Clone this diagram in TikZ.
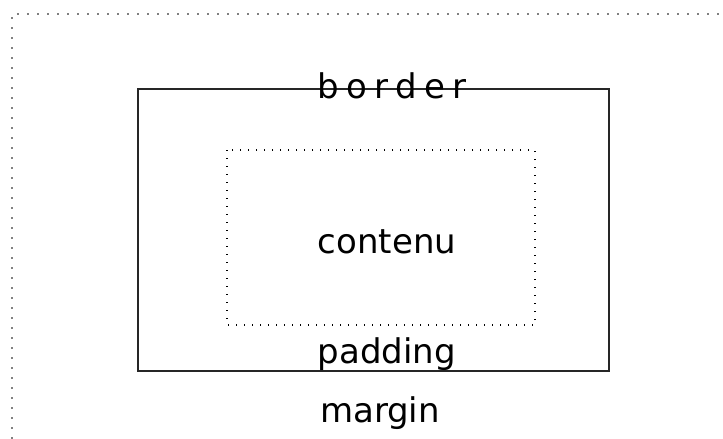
\documentclass[tikz,border=0pt]{standalone}
\usepackage{fontspec}
\setmainfont{DejaVu Sans}
\begin{document}
\begin{tikzpicture}[x=1pt, y=-1pt, thick]
    \useasboundingbox (0,0) rectangle (723,439);
    % margin
    \coordinate (MB) at (12,439);
    \coordinate (MC) at (12,14);
    \coordinate (MR) at (723,14);
    \draw[gray, line width=2pt, dash pattern=on 2pt off 8pt] (MB) -- (MC) -- (MR);
    % border
    \draw[black!85, line width=1.8pt] (138,89) rectangle (609,371);
    % padding / contenu
    \draw[black, line width=1.4pt, dash pattern=on 1.4pt off 6.6pt] (227,150) rectangle (535,325);

    \node[anchor=base, font=\fontsize{34}{40}\selectfont\addfontfeature{LetterSpace=22}] at (392,98) (B) {border};
    \node[anchor=base, font=\fontsize{34}{40}\selectfont] at (387,253) (C) {contenu};
    \node[anchor=base, font=\fontsize{34}{40}\selectfont] at (387,363) (P) {padding};
    \node[anchor=base, font=\fontsize{34}{40}\selectfont] at (380,422) (M) {margin};
\end{tikzpicture}
\end{document}
